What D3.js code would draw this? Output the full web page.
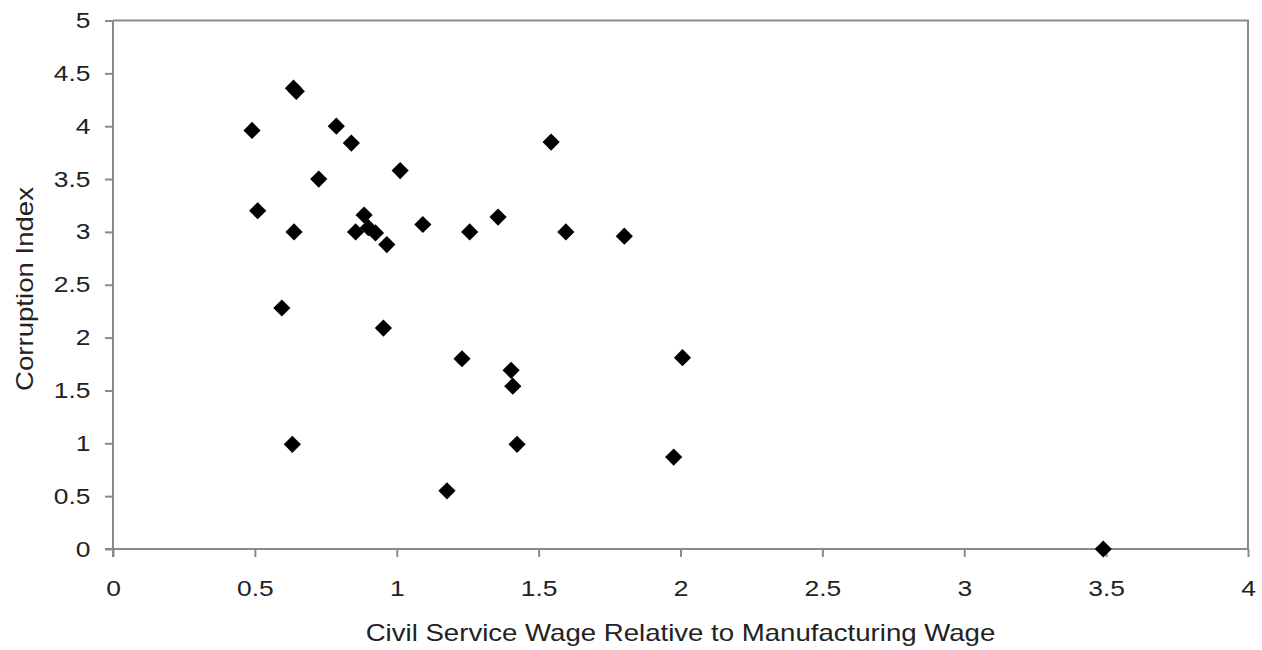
<!DOCTYPE html>
<html>
<head>
<meta charset="utf-8">
<script src="https://cdn.jsdelivr.net/npm/d3@7"></script>
<style>
  html, body { margin: 0; padding: 0; background: #fff; }
  svg { display: block; }
  text { font-family: "Liberation Sans", Arial, sans-serif; fill: #222; }
</style>
</head>
<body>
<svg id="chart" width="1262" height="650"></svg>
<script>
// Data
const wageRatio = [0.490, 0.510, 0.595, 0.632, 0.638, 0.636, 0.646, 0.725, 0.787, 0.840,
                   0.855, 0.885, 0.900, 0.925, 0.953, 0.965, 1.012, 1.092, 1.177, 1.230,
                   1.257, 1.357, 1.403, 1.409, 1.424, 1.544, 1.596, 1.802, 1.976, 2.007, 3.490];
const corruption = [3.96, 3.20, 2.28, 0.99, 3.00, 4.36, 4.33, 3.50, 4.00, 3.84,
                    3.00, 3.16, 3.04, 2.99, 2.09, 2.88, 3.58, 3.07, 0.55, 1.80,
                    3.00, 3.14, 1.69, 1.54, 0.99, 3.85, 3.00, 2.96, 0.87, 1.81, 0.00];
const xTicks = [0, 0.5, 1, 1.5, 2, 2.5, 3, 3.5, 4];
const yTicks = [0, 0.5, 1, 1.5, 2, 2.5, 3, 3.5, 4, 4.5, 5];
const xTitle = "Civil Service Wage Relative to Manufacturing Wage";
const yTitle = "Corruption Index";

const points = wageRatio.map((x, i) => ({ x, y: corruption[i] }));

const mLeft = 113, mRight = 1248, mTop = 20.5, mBottom = 549;
const svg = d3.select("#chart");
const x = d3.scaleLinear().domain([0, 4]).range([mLeft, mRight]);
const y = d3.scaleLinear().domain([0, 5]).range([mBottom, mTop]);
const axisColor = "#8a8a8a";
const textColor = "#222";
const fontFam = '"Liberation Sans", Arial, sans-serif';
const stretch = 1.2;   // reference text is horizontally widened

// Plot frame (top and right)
svg.append("path")
  .attr("d", `M${mLeft},${mTop}H${mRight}V${mBottom}`)
  .attr("fill", "none").attr("stroke", axisColor).attr("stroke-width", 2);

// X axis
const gx = svg.append("g").attr("transform", `translate(0,${mBottom})`)
  .call(d3.axisBottom(x).tickValues(xTicks).tickSize(8).tickSizeOuter(0)
        .tickFormat(d3.format("")));
gx.select(".domain").attr("stroke", axisColor).attr("stroke-width", 2)
  .attr("d", `M${mLeft - 8},0H${mRight}`);
gx.selectAll(".tick line").attr("stroke", axisColor).attr("stroke-width", 2);
gx.selectAll(".tick text").attr("font-size", 22).attr("y", 47).attr("dy", "0")
  .attr("transform", `scale(${stretch},1)`)
  .style("font-family", fontFam).attr("fill", textColor);

// Y axis
const gy = svg.append("g").attr("transform", `translate(${mLeft},0)`)
  .call(d3.axisLeft(y).tickValues(yTicks).tickSize(8).tickSizeOuter(0)
        .tickFormat(d3.format("")));
gy.select(".domain").attr("stroke", axisColor).attr("stroke-width", 2)
  .attr("d", `M0,${mTop}V${mBottom + 8}`);
gy.selectAll(".tick line").attr("stroke", axisColor).attr("stroke-width", 2);
gy.selectAll(".tick text").attr("font-size", 22).attr("x", -22.5 / stretch)
  .attr("transform", `scale(${stretch},1)`)
  .style("font-family", fontFam).attr("fill", textColor);

// Axis titles
svg.append("text")
  .attr("transform", `translate(${(mLeft + mRight) / 2},641) scale(${stretch},1)`)
  .attr("text-anchor", "middle").attr("font-size", 23)
  .text(xTitle);
svg.append("text")
  .attr("transform", `translate(33,289) rotate(-90) scale(${stretch},1)`)
  .attr("text-anchor", "middle").attr("font-size", 23)
  .text(yTitle);

// Diamond markers
const s = 8.6;
svg.append("g").selectAll("path").data(points).join("path")
  .attr("transform", d => `translate(${x(d.x)},${y(d.y)})`)
  .attr("d", `M0,${-s}L${s},0L0,${s}L${-s},0Z`)
  .attr("fill", "#000");
</script>
</body>
</html>
